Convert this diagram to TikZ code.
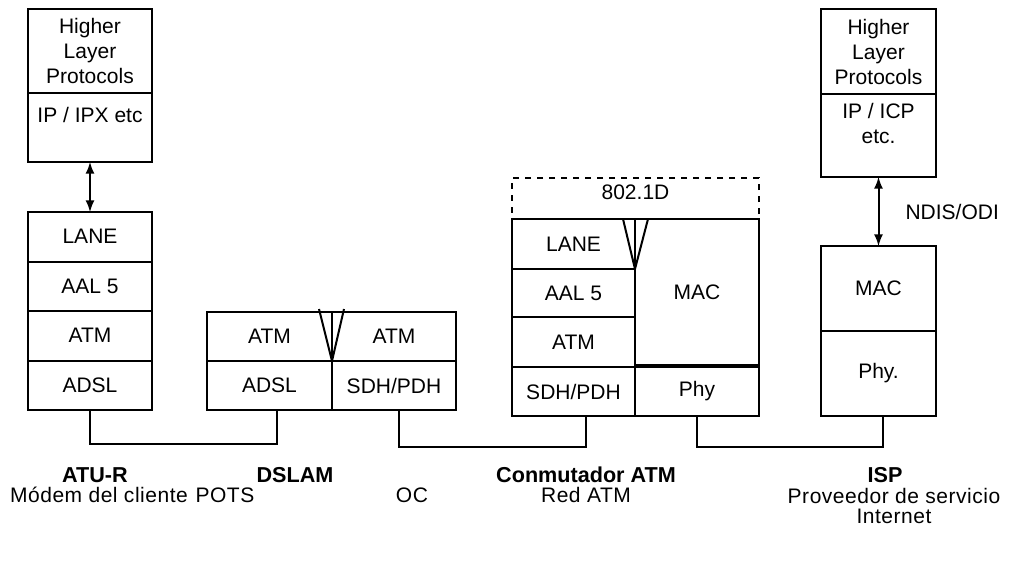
\documentclass[tikz,border=0pt]{standalone}
\usepackage{fontspec}
\setmainfont{Liberation Sans}
\usetikzlibrary{positioning, arrows}

\begin{document}
\begin{tikzpicture}[x=0.5pt, y=-0.5pt, line width=1pt, >=latex,
    layer/.style={draw, rectangle, inner sep=0pt, outer sep=0pt, align=center,
        minimum width=62pt, minimum height=24.75pt, font=\fontsize{10.5}{12.5}\selectfont},
    title/.style={inner sep=0pt, font=\fontsize{10.8}{13}\selectfont\bfseries},
    caption/.style={inner sep=0pt, align=center,
        font=\fontsize{10.5}{10.2}\selectfont\addfontfeature{LetterSpace=2.5}}]
    \useasboundingbox (0,0) rectangle (1019,568);

    % ATU-R
    \node[layer, anchor=north west, minimum height=42pt] (hlp1) at (28,9) {Higher\\Layer\\Protocols};
    \node[layer, below=0pt of hlp1, minimum height=34.5pt, text depth=13pt] (ip1) {IP / IPX etc};
    \node[layer, anchor=north] (lane1) at (90,212) {LANE};
    \node[layer, below=0pt of lane1] (aal1) {AAL 5};
    \node[layer, below=0pt of aal1] (atm1) {ATM};
    \node[layer, below=0pt of atm1] (adsl1) {ADSL};

    % DSLAM
    \node[layer, anchor=north west, minimum width=62.5pt, minimum height=24.5pt] (datm) at (207,312) {ATM};
    \node[layer, below=0pt of datm, minimum width=62.5pt, minimum height=24.5pt] (dadsl) {ADSL};
    \node[layer, right=0pt of datm, minimum height=24.5pt] (datm2) {ATM};
    \node[layer, below=0pt of datm2, minimum height=24.5pt] (dsdh) {SDH/PDH};
    \draw ([shift={(-13,-3)}]datm.north east) -- (datm.south east) -- ([shift={(12,-3)}]datm.north east);

    % Conmutador ATM
    \node[layer, dashed, anchor=south west, minimum width=123.5pt, minimum height=20.5pt, text depth=6pt] (bridge) at (512,219) {802.1D};
    \node[layer, anchor=north west, fill=white, minimum width=61.5pt, minimum height=25pt] (slane) at (512,219) {LANE};
    \node[layer, below=0pt of slane, minimum width=61.5pt, minimum height=24pt] (saal) {AAL 5};
    \node[layer, below=0pt of saal, minimum width=61.5pt, minimum height=25pt] (satm) {ATM};
    \node[layer, below=0pt of satm, minimum width=61.5pt, minimum height=24.5pt] (ssdh) {SDH/PDH};
    \node[layer, anchor=north west, minimum height=73.5pt] (smac) at (slane.north east) {MAC};
    \node[layer, below=0pt of smac, minimum height=25pt] (sphy) {Phy};
    \draw[line width=2pt] (smac.south west) -- (smac.south east);
    \draw ([xshift=-6pt]slane.north east) -- (slane.south east) -- ([xshift=6.5pt]slane.north east);

    % ISP
    \node[layer, anchor=north west, minimum width=57.5pt, minimum height=42.5pt] (hlp2) at (821,9) {Higher\\Layer\\Protocols};
    \node[layer, below=0pt of hlp2, minimum width=57.5pt, minimum height=41.5pt, text depth=12.5pt] (ip2) {IP / ICP\\etc.};
    \node[layer, anchor=north west, minimum width=57.5pt, minimum height=42.5pt] (imac) at (821,246) {MAC};
    \node[layer, below=0pt of imac, minimum width=57.5pt, minimum height=42.5pt] (iphy) {Phy.};

    \path[<->]
        (ip1) edge (lane1)
        (ip2) edge node[right=13pt, inner sep=0pt, font=\fontsize{10.5}{12.5}\selectfont] {NDIS/ODI} (imac);

    \draw (adsl1.south) -- ++(0,34) -| ([xshift=3.75pt]dadsl.south);
    \draw ([xshift=2.5pt]dsdh.south) -- ++(0,37) -| ([xshift=6.25pt]ssdh.south);
    \draw (sphy.south) -- ++(0,31) -| ([xshift=2.25pt]iphy.south);

    % captions
    \node[title] (atur) at (95,475) {ATU-R};
    \node[caption] (modem) at (99,495) {Módem del cliente};
    \node[title] (dslam) at (295,475) {DSLAM};
    \node[caption] (pots) at (225,495) {POTS};
    \node[caption] (oc) at (412,495) {OC};
    \node[title] (conm) at (586,475) {Conmutador ATM};
    \node[caption] (red) at (586,495) {Red ATM};
    \node[title] (isp) at (885,475) {ISP};
    \node[caption, anchor=north] (prov) at (894,487) {Proveedor de servicio\\Internet};
\end{tikzpicture}
\end{document}
